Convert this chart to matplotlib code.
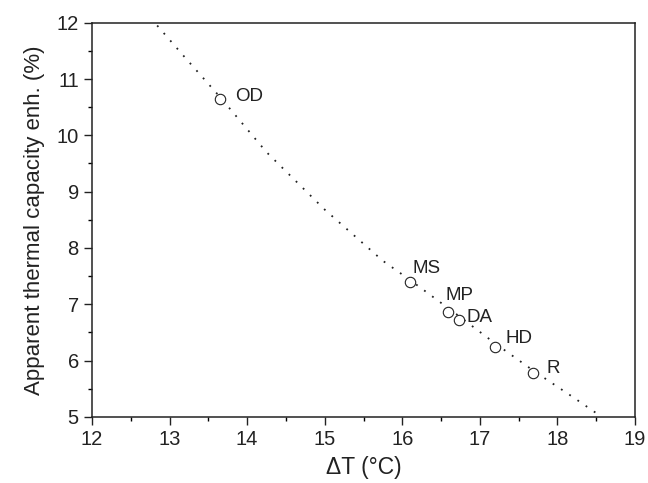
import numpy as np
import matplotlib
matplotlib.use('Agg')
from matplotlib import pyplot as plt
from matplotlib.ticker import MultipleLocator

plt.rcParams['font.family'] = ['Liberation Sans', 'DejaVu Sans']

# measured points
labels = ['OD', 'MS', 'MP', 'DA', 'HD', 'R']
delta_t = [13.65, 16.10, 16.59, 16.73, 17.19, 17.69]
enh = [10.64, 7.40, 6.87, 6.72, 6.24, 5.78]
# label offsets in pixels (dx, dy)
label_dx = [15, 2, -3, 8, 11, 13]
label_dy = [3, 13, 16, 2, 9, 4]

# dotted trend curve
fit_x = [12.84, 13.20, 13.65, 14.25, 15.00, 15.75, 16.10, 16.70, 17.20, 17.70, 18.20, 18.57]
fit_y = [11.95, 11.38, 10.68, 9.70, 8.68, 7.77, 7.43, 6.82, 6.30, 5.81, 5.35, 5.00]

fig = plt.figure(figsize=(6.48, 4.83), dpi=100)
ax = fig.add_axes([0.142, 0.137, 0.838, 0.816])

ax.plot(fit_x, fit_y, color='#222222', linestyle=(0, (1, 4.5)), linewidth=1.3)
ax.plot(delta_t, enh, 'o', markerfacecolor='white', markeredgecolor='#222222',
        markersize=7.5, markeredgewidth=0.8)

for lab, x, y, dx, dy in zip(labels, delta_t, enh, label_dx, label_dy):
    ax.annotate(lab, xy=(x, y), xytext=(dx, dy), textcoords='offset pixels',
                ha='left', va='center', fontsize=13.5, color='#222222')

ax.set_xlim(12, 19)
ax.set_ylim(5, 12)
ax.xaxis.set_major_locator(MultipleLocator(1))
ax.xaxis.set_minor_locator(MultipleLocator(0.5))
ax.yaxis.set_major_locator(MultipleLocator(1))
ax.yaxis.set_minor_locator(MultipleLocator(0.5))
ax.tick_params(which='major', direction='out', length=6, width=1, labelsize=14.5,
               colors='#222222', top=False, right=False, pad=3.5)
ax.tick_params(which='minor', direction='out', length=3, width=1, top=False, right=False)
for sp in ax.spines.values():
    sp.set_linewidth(1.1)
    sp.set_color('#222222')

ax.set_xlabel('\u0394T (\u00b0C)', fontsize=16.5, color='#222222', labelpad=5)
ax.set_ylabel('Apparent thermal capacity enh. (%)', fontsize=16, color='#222222', labelpad=8)

fig.savefig('out.png', dpi=100)
